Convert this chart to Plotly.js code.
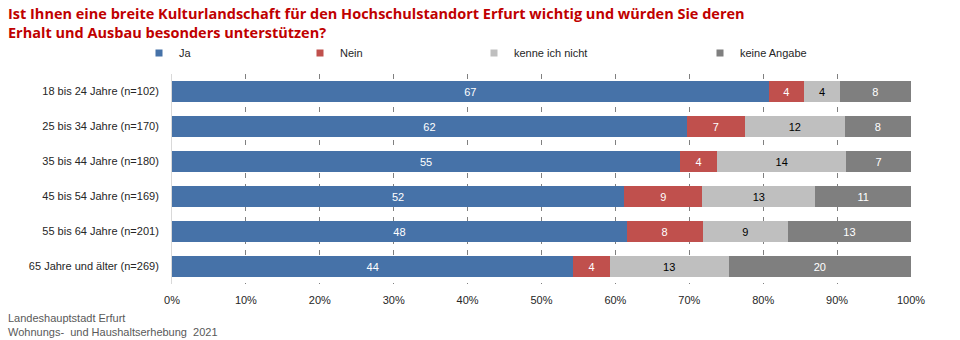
<!DOCTYPE html>
<html>
<head>
<meta charset="utf-8">
<script src="https://cdn.plot.ly/plotly-3.0.1.min.js"></script>
<style>html,body{margin:0;padding:0;background:#fff}#chart{width:960px;height:340px}</style>
</head>
<body>
<div id="chart"></div>
<script>
const categories = [
  "18 bis 24 Jahre (n=102)",
  "25 bis 34 Jahre (n=170)",
  "35 bis 44 Jahre (n=180)",
  "45 bis 54 Jahre (n=169)",
  "55 bis 64 Jahre (n=201)",
  "65 Jahre und älter (n=269)"
];
const seriesNames = ["Ja", "Nein", "kenne ich nicht", "keine Angabe"];
const ja = [67, 62, 55, 52, 48, 44];
const nein = [4, 7, 4, 9, 8, 4];
const kenne = [4, 12, 14, 13, 9, 13];
const keine = [8, 8, 7, 11, 13, 20];
const xTicks = [0, 10, 20, 30, 40, 50, 60, 70, 80, 90, 100];
const xTickLabels = ["0%", "10%", "20%", "30%", "40%", "50%", "60%", "70%", "80%", "90%", "100%"];

const colors = ["#4672a8", "#c0504d", "#bfbfbf", "#7f7f7f"];
const textColors = ["#ffffff", "#ffffff", "#000000", "#ffffff"];
const legendX = [139, 300, 474, 700];
const FONT = "Liberation Sans, Arial, sans-serif";

const values = [ja, nein, kenne, keine];
const traces = [];
values.forEach((v, i) => {
  traces.push({
    type: "bar", orientation: "h", name: seriesNames[i],
    x: v, y: categories, text: v.map(String),
    textposition: "inside", insidetextanchor: "middle",
    textfont: {family: FONT, size: 11, color: textColors[i]},
    marker: {color: colors[i]}, showlegend: false, hoverinfo: "x+y"
  });
});
values.forEach((v, i) => {
  traces.push({
    type: "scatter", mode: "markers", name: seriesNames[i],
    x: [null], y: [null],
    marker: {symbol: "square", size: 7, color: colors[i]},
    legend: i === 0 ? "legend" : "legend" + (i + 1)
  });
});

function leg(i) {
  return {
    xref: "container", yref: "container",
    x: legendX[i] / 960, y: 1 - 53 / 340,
    xanchor: "left", yanchor: "middle",
    orientation: "h", itemwidth: 30,
    font: {family: FONT, size: 11, color: "#262626"},
    bgcolor: "rgba(0,0,0,0)"
  };
}

const layout = {
  width: 960, height: 340,
  margin: {l: 172, r: 49, t: 74, b: 56},
  paper_bgcolor: "#ffffff", plot_bgcolor: "#ffffff",
  barmode: "stack", barnorm: "percent", bargap: 0.42,
  font: {family: FONT, size: 11, color: "#262626"},
  xaxis: {
    range: [0, 100], tickvals: xTicks, ticktext: xTickLabels,
    showgrid: true, gridcolor: "#808080", griddash: "5px,6px", gridwidth: 1,
    zeroline: false, showline: false, ticks: "", ticklabelstandoff: 8,
    tickfont: {family: FONT, size: 11, color: "#262626"}, fixedrange: true
  },
  yaxis: {
    autorange: "reversed", showgrid: false, zeroline: false,
    showline: true, linecolor: "#d9d9d9", linewidth: 1,
    ticks: "", ticklabelstandoff: 10,
    tickfont: {family: FONT, size: 11, color: "#262626"}, fixedrange: true
  },
  legend: leg(0), legend2: leg(1), legend3: leg(2), legend4: leg(3),
  annotations: [
    {
      text: "<b>Ist Ihnen eine breite Kulturlandschaft für den Hochschulstandort Erfurt wichtig und würden Sie deren<br>Erhalt und Ausbau besonders unterstützen?</b>",
      xref: "paper", yref: "paper", x: -166 / 739, y: 1 + 72 / 210,
      xanchor: "left", yanchor: "top", align: "left", showarrow: false,
      font: {family: "Open Sans, Noto Sans, sans-serif", size: 14.5, color: "#c00000"}
    },
    {
      text: "Landeshauptstadt Erfurt<br>Wohnungs-  und Haushaltserhebung  2021",
      xref: "paper", yref: "paper", x: -166 / 739, y: -26 / 210,
      xanchor: "left", yanchor: "top", align: "left", showarrow: false,
      font: {family: FONT, size: 11, color: "#595959"}
    }
  ]
};

Plotly.newPlot("chart", traces, layout, {displayModeBar: false, staticPlot: true});
</script>
</body>
</html>
